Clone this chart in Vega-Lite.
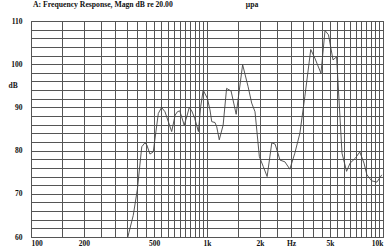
{
  "$schema": "https://vega.github.io/schema/vega-lite/v6.json",
  "autosize": {"type": "none"},
  "width": 352,
  "height": 216,
  "padding": {"left": 31, "top": 21, "right": 1, "bottom": 11},
  "background": "white",
  "title": {
    "text": "A: Frequency Response, Magn dB re 20.00\u00a0\u00a0\u00a0\u00a0\u00a0\u00a0\u00a0\u00a0\u00a0\u00a0\u00a0\u00a0\u00a0\u00a0\u00a0\u00a0\u00a0\u00a0\u00a0\u00a0\u00a0\u00a0\u00a0\u00a0\u00a0\u00a0\u00a0\u00a0\u00a0\u00a0\u00a0\u00a0\u00a0\u00a0\u00a0\u00a0\u00a0\u00a0μpa",
    "anchor": "start",
    "frame": "group",
    "offset": 8,
    "dx": 2,
    "font": "Liberation Serif",
    "fontSize": 7.7,
    "fontWeight": "bold",
    "color": "#111"
  },
  "config": {
    "view": {"stroke": "#444", "strokeWidth": 1},
    "axis": {
      "labelFont": "Liberation Serif",
      "labelFontWeight": "bold",
      "labelFontSize": 7.5,
      "labelColor": "#111",
      "titleFont": "Liberation Serif",
      "titleFontWeight": "bold",
      "titleFontSize": 7.5,
      "titleColor": "#111",
      "gridColor": "#555",
      "gridOpacity": 1,
      "gridWidth": 1,
      "domain": false,
      "ticks": false
    }
  },
  "data": {
    "values": [
      {"f": 345, "db": 58},
      {"f": 360, "db": 61},
      {"f": 381, "db": 65},
      {"f": 402, "db": 71},
      {"f": 426, "db": 80.9},
      {"f": 444, "db": 81.8},
      {"f": 455, "db": 81.3},
      {"f": 474, "db": 79.2},
      {"f": 495, "db": 79.7},
      {"f": 529, "db": 88.6},
      {"f": 552, "db": 90.0},
      {"f": 577, "db": 89.0},
      {"f": 603, "db": 86.7},
      {"f": 630, "db": 84.4},
      {"f": 659, "db": 88.2},
      {"f": 679, "db": 89.0},
      {"f": 700, "db": 89.2},
      {"f": 718, "db": 87.8},
      {"f": 742, "db": 85.9},
      {"f": 767, "db": 87.8},
      {"f": 793, "db": 90.0},
      {"f": 819, "db": 89.2},
      {"f": 851, "db": 87.5},
      {"f": 894, "db": 84.4},
      {"f": 921, "db": 90.2},
      {"f": 951, "db": 94.0},
      {"f": 1005, "db": 92.1},
      {"f": 1040, "db": 89.4},
      {"f": 1064, "db": 86.7},
      {"f": 1110, "db": 86.5},
      {"f": 1136, "db": 85.5},
      {"f": 1174, "db": 82.5},
      {"f": 1235, "db": 85.9},
      {"f": 1292, "db": 94.4},
      {"f": 1370, "db": 93.8},
      {"f": 1465, "db": 88.4},
      {"f": 1594, "db": 99.9},
      {"f": 1712, "db": 94.8},
      {"f": 1794, "db": 91.0},
      {"f": 1874, "db": 89.0},
      {"f": 1984, "db": 78.6},
      {"f": 2088, "db": 76.3},
      {"f": 2196, "db": 74.0},
      {"f": 2334, "db": 81.8},
      {"f": 2437, "db": 81.5},
      {"f": 2600, "db": 77.8},
      {"f": 2770, "db": 77.4},
      {"f": 2956, "db": 75.7},
      {"f": 3155, "db": 79.4},
      {"f": 3370, "db": 84.0},
      {"f": 3597, "db": 92.5},
      {"f": 3886, "db": 103.4},
      {"f": 4100, "db": 101.4},
      {"f": 4442, "db": 97.9},
      {"f": 4684, "db": 107.8},
      {"f": 4900, "db": 106.8},
      {"f": 5200, "db": 101.0},
      {"f": 5450, "db": 101.7},
      {"f": 5848, "db": 79.4},
      {"f": 6210, "db": 75.2},
      {"f": 6500, "db": 77.1},
      {"f": 6950, "db": 78.2},
      {"f": 7380, "db": 79.7},
      {"f": 7800, "db": 77.1},
      {"f": 8100, "db": 74.4},
      {"f": 8620, "db": 73.0},
      {"f": 9230, "db": 72.7},
      {"f": 9850, "db": 74.4}
    ]
  },
  "mark": {"type": "line", "color": "#444", "strokeWidth": 0.9, "clip": true},
  "encoding": {
    "x": {
      "field": "f",
      "type": "quantitative",
      "scale": {"type": "log", "domain": [100, 10000], "nice": false},
      "axis": {
        "title": null,
        "grid": true,
        "values": [100,150,200,250,300,350,400,450,500,550,600,650,700,750,800,850,900,950,1000,1500,2000,2500,3000,3500,4000,4500,5000,5500,6000,6500,7000,7500,8000,8500,9000,9500,10000],
        "labelExpr": "datum.value==100?'100':datum.value==200?'200':datum.value==500?'500':datum.value==1000?'1k':datum.value==2000?'2k':datum.value==3000?'Hz':datum.value==5000?'5k':datum.value==10000?'10k':''",
        "labelFlush": true,
        "labelPadding": 2,
        "labelOverlap": false
      }
    },
    "y": {
      "field": "db",
      "type": "quantitative",
      "scale": {"domain": [60, 110], "nice": false, "zero": false},
      "axis": {
        "title": "dB",
        "titleAngle": 0,
        "titleAlign": "left",
        "titleBaseline": "middle",
        "titleX": -23,
        "titleY": 64,
        "grid": true,
        "values": [60,62,64,66,68,70,72,74,76,78,80,82,84,86,88,90,92,94,96,98,100,102,104,106,108,110],
        "labelExpr": "datum.value % 10 == 0 ? datum.value : ''",
        "labelPadding": 9,
        "labelOverlap": false
      }
    }
  }
}
